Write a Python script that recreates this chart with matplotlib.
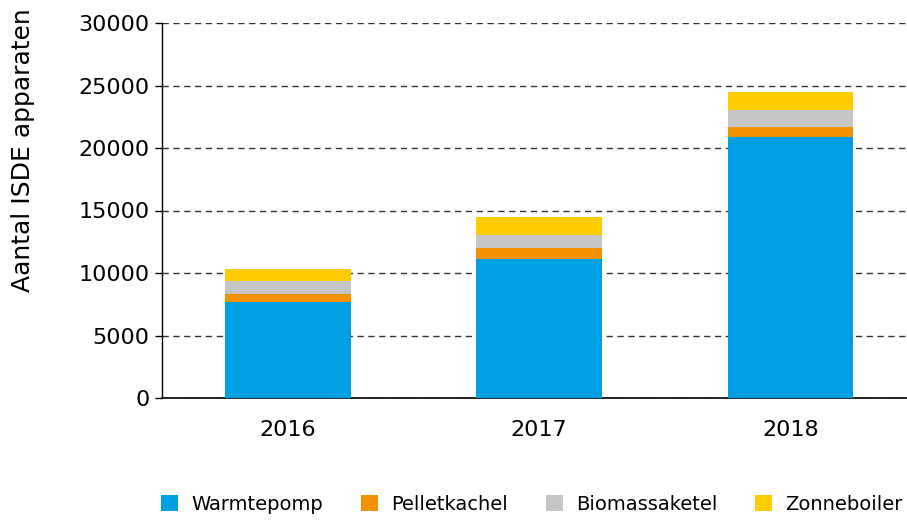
import matplotlib
matplotlib.use("Agg")
import matplotlib.pyplot as plt
import numpy as np

years = ["2016", "2017", "2018"]
series_names = ["Warmtepomp", "Pelletkachel", "Biomassaketel", "Zonneboiler"]
warmtepomp = [7700, 11140, 20880]
pelletkachel = [650, 825, 800]
biomassaketel = [1020, 1065, 1340]
zonneboiler = [990, 1420, 1470]
colors = ["#009FE3", "#F39200", "#C6C6C6", "#FFCC00"]

fig = plt.figure(figsize=(9.07, 5.20), dpi=100)
ax = fig.add_axes([162/907, 122/520, 754/907, 375/520])

x = np.arange(len(years))
bottom = np.zeros(len(years))
handles = []
for name, vals, c in zip(series_names, [warmtepomp, pelletkachel, biomassaketel, zonneboiler], colors):
    b = ax.bar(x, vals, width=0.5, bottom=bottom, color=c, label=name, zorder=3)
    handles.append(b)
    bottom += np.array(vals)

ax.set_xlim(-0.5, 2.5)
ax.set_ylim(0, 30000)
ax.set_yticks(range(0, 30001, 5000))
ax.set_xticks(x)
ax.set_xticklabels(years)
ax.tick_params(axis="y", labelsize=16, length=5, width=1, direction="out", pad=4)
ax.tick_params(axis="x", labelsize=16, length=0, pad=16)
for sp in ["top", "right"]:
    ax.spines[sp].set_visible(False)
ax.spines["left"].set_linewidth(1)
ax.spines["bottom"].set_linewidth(1.2)
ax.yaxis.grid(True, linestyle=(0, (4.5, 3.3)), color="#333333", linewidth=1, zorder=0)
ax.set_axisbelow(True)
ax.set_ylabel("Aantal ISDE apparaten", fontsize=18)
ax.yaxis.set_label_coords(-0.168, 0.661)

fig.legend(handles=handles, labels=series_names, loc="center left",
           bbox_to_anchor=(161/907, 16/520), ncol=4, frameon=False,
           prop={"size": 14}, handlelength=0.88, handleheight=0.88,
           handletextpad=0.67, columnspacing=1.95, borderaxespad=0, borderpad=0)

fig.savefig("out.png", dpi=100)
